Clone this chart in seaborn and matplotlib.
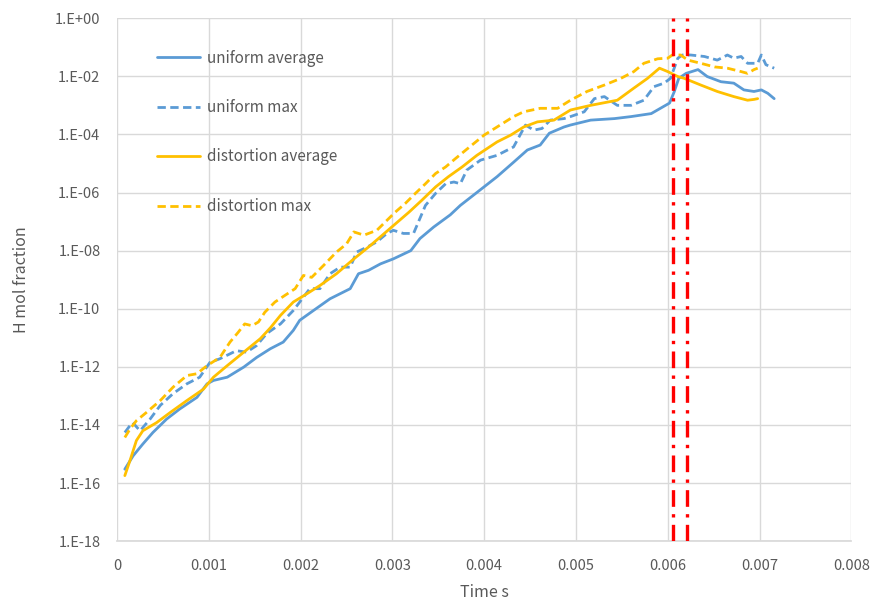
import numpy as np
import pandas as pd
import matplotlib
matplotlib.use("Agg")
import matplotlib.pyplot as plt
from matplotlib.ticker import FixedLocator, FixedFormatter
import seaborn as sns

# ---- data (time in s, H mol fraction) ----
uniform_avg_t = [0.000084, 0.000175, 0.00028, 0.00039, 0.00054, 0.00068, 0.00087, 0.00098,
                 0.00105, 0.0012, 0.00138, 0.00152, 0.00167, 0.00181, 0.00192, 0.00199,
                 0.00214, 0.00232, 0.00254, 0.00263, 0.00274, 0.00287, 0.00301, 0.0032,
                 0.0033, 0.00345, 0.00363, 0.00374, 0.00392, 0.00414, 0.00432, 0.00447,
                 0.00461, 0.00471, 0.00487, 0.00494, 0.00516, 0.00542, 0.0056, 0.00582,
                 0.00592, 0.00602, 0.00607, 0.00612, 0.0062, 0.00633, 0.00643, 0.00658,
                 0.00672, 0.00683, 0.00694, 0.00702, 0.00709, 0.00716]
uniform_avg = [3.0e-16, 8.7e-16, 2.2e-15, 5.5e-15, 1.6e-14, 3.5e-14, 8.9e-14, 2.6e-13,
               3.4e-13, 4.4e-13, 9.8e-13, 2.1e-12, 4.2e-12, 7.1e-12, 1.8e-11, 4.0e-11,
               8.7e-11, 2.2e-10, 4.9e-10, 1.6e-9, 2.1e-9, 3.5e-9, 5.2e-9, 1.0e-8,
               2.6e-8, 6.5e-8, 1.7e-7, 3.6e-7, 1.0e-6, 3.5e-6, 1.1e-5, 2.9e-5,
               4.3e-5, 1.1e-4, 1.8e-4, 2.1e-4, 3.1e-4, 3.5e-4, 4.1e-4, 5.2e-4,
               7.9e-4, 1.2e-3, 2.9e-3, 8.5e-3, 1.26e-2, 1.7e-2, 9.8e-3, 6.5e-3,
               5.8e-3, 3.4e-3, 3.0e-3, 3.4e-3, 2.6e-3, 1.7e-3]

uniform_max_t = [0.000084, 0.00014, 0.00017, 0.00025, 0.00036, 0.00047, 0.00061, 0.00076,
                 0.0009, 0.00101, 0.00112, 0.00123, 0.0013, 0.00141, 0.00152, 0.00163,
                 0.00178, 0.00192, 0.00203, 0.0021, 0.00221, 0.00232, 0.00243, 0.00254,
                 0.00261, 0.00272, 0.00283, 0.00294, 0.00301, 0.00312, 0.00323, 0.00336,
                 0.00347, 0.00358, 0.00367, 0.00374, 0.00381, 0.00396, 0.00414, 0.00432,
                 0.00445, 0.00454, 0.00463, 0.00472, 0.00487, 0.00494, 0.00509, 0.0052,
                 0.00531, 0.00545, 0.0056, 0.00574, 0.00585, 0.00596, 0.00603, 0.00611,
                 0.00616, 0.00625, 0.0064, 0.00654, 0.00665, 0.00672, 0.0068, 0.00687,
                 0.00698, 0.00702, 0.00707, 0.00716]
uniform_max = [5.5e-15, 9.5e-15, 1.2e-14, 6.3e-15, 1.6e-14, 4.7e-14, 1.2e-13, 2.6e-13,
               4.4e-13, 1.4e-12, 1.9e-12, 2.8e-12, 3.6e-12, 3.2e-12, 5.4e-12, 1.4e-11,
               3.0e-11, 8.7e-11, 2.5e-10, 4.9e-10, 4.9e-10, 1.6e-9, 2.7e-9, 2.7e-9,
               8.9e-9, 1.3e-8, 2.0e-8, 3.9e-8, 5.0e-8, 3.9e-8, 3.9e-8, 3.6e-7,
               9.3e-7, 2.0e-6, 2.3e-6, 2.0e-6, 5.9e-6, 1.3e-5, 1.9e-5, 3.7e-5,
               2.1e-4, 1.4e-4, 1.6e-4, 3.1e-4, 3.5e-4, 4.1e-4, 6.0e-4, 1.7e-3,
               2.0e-3, 1.0e-3, 1.0e-3, 1.5e-3, 4.4e-3, 5.8e-3, 8.5e-3, 4.2e-2,
               5.4e-2, 5.4e-2, 4.8e-2, 3.6e-2, 5.4e-2, 4.2e-2, 4.8e-2, 2.8e-2,
               2.8e-2, 5.4e-2, 2.5e-2, 1.9e-2]

distortion_avg_t = [0.000084, 0.00014, 0.00021, 0.00028, 0.00043, 0.00058, 0.00076, 0.00094,
                    0.00105, 0.0012, 0.00138, 0.00156, 0.00167, 0.00178, 0.00192, 0.00207,
                    0.00221, 0.00239, 0.00258, 0.00276, 0.00298, 0.00318, 0.00332, 0.00347,
                    0.00361, 0.00376, 0.00392, 0.00414, 0.00429, 0.00443, 0.00458, 0.00476,
                    0.00494, 0.00516, 0.00545, 0.00563, 0.00578, 0.00591, 0.006, 0.00611,
                    0.00618, 0.00636, 0.00654, 0.00672, 0.00687, 0.00694, 0.00698]
distortion_avg = [1.8e-16, 5.9e-16, 2.9e-15, 6.3e-15, 1.2e-14, 2.7e-14, 6.9e-14, 1.7e-13,
                  4.4e-13, 1.1e-12, 3.2e-12, 9.3e-12, 2.2e-11, 5.9e-11, 1.7e-10, 3.3e-10,
                  6.3e-10, 1.6e-9, 5.2e-9, 1.5e-8, 6.0e-8, 2.1e-7, 5.4e-7, 1.55e-6,
                  3.5e-6, 7.6e-6, 1.9e-5, 5.5e-5, 9.5e-5, 1.8e-4, 2.7e-4, 3.1e-4,
                  6.9e-4, 1.0e-3, 1.5e-3, 3.9e-3, 8.5e-3, 1.9e-2, 1.45e-2, 9.8e-3,
                  8.5e-3, 5.0e-3, 3.0e-3, 2.0e-3, 1.5e-3, 1.6e-3, 1.7e-3]

distortion_max_t = [0.000084, 0.00014, 0.00021, 0.00032, 0.00047, 0.00061, 0.00076, 0.00087,
                    0.00098, 0.00112, 0.00123, 0.00132, 0.00139, 0.00147, 0.00154, 0.00161,
                    0.00172, 0.00183, 0.00194, 0.00203, 0.00212, 0.00225, 0.00239, 0.0025,
                    0.00258, 0.00269, 0.00283, 0.00303, 0.00314, 0.00325, 0.00336, 0.00347,
                    0.00358, 0.00369, 0.0038, 0.004, 0.00414, 0.00432, 0.00443, 0.00461,
                    0.0048, 0.00494, 0.00512, 0.00531, 0.00549, 0.00563, 0.00574, 0.00589,
                    0.006, 0.00605, 0.00614, 0.00622, 0.00636, 0.00651, 0.00665, 0.0068,
                    0.00687, 0.00694, 0.00698]
distortion_max = [3.7e-15, 7.2e-15, 1.4e-14, 2.7e-14, 6.9e-14, 2.0e-13, 5.0e-13, 5.8e-13,
                  1.1e-12, 2.1e-12, 7.1e-12, 1.55e-11, 3.0e-11, 2.6e-11, 3.5e-11, 7.6e-11,
                  1.7e-10, 2.9e-10, 4.9e-10, 1.4e-9, 1.2e-9, 3.1e-9, 8.9e-9, 1.7e-8,
                  4.4e-8, 3.4e-8, 5.0e-8, 2.1e-7, 4.2e-7, 9.3e-7, 2.0e-6, 4.5e-6,
                  7.6e-6, 1.5e-5, 2.9e-5, 9.5e-5, 1.8e-4, 4.1e-4, 6.0e-4, 7.9e-4,
                  7.9e-4, 1.5e-3, 3.0e-3, 5.0e-3, 8.5e-3, 1.45e-2, 2.8e-2, 4.0e-2,
                  4.2e-2, 5.4e-2, 5.4e-2, 3.6e-2, 2.8e-2, 2.1e-2, 1.9e-2, 1.45e-2,
                  1.26e-2, 1.7e-2, 1.9e-2]

event_times = [0.006056, 0.00621]

x_ticks = [0, 0.001, 0.002, 0.003, 0.004, 0.005, 0.006, 0.007, 0.008]
x_tick_labels = ["0", "0.001", "0.002", "0.003", "0.004", "0.005", "0.006", "0.007", "0.008"]
y_ticks = [1e-18, 1e-16, 1e-14, 1e-12, 1e-10, 1e-08, 1e-06, 1e-04, 1e-02, 1e+00]
y_tick_labels = ["1.E-18", "1.E-16", "1.E-14", "1.E-12", "1.E-10", "1.E-08",
                 "1.E-06", "1.E-04", "1.E-02", "1.E+00"]

BLUE = "#5B9BD5"
GOLD = "#FFC000"
GRID = "#D9D9D9"
TEXT = "#595959"

sns.set_theme(style="white")
plt.rcParams["font.family"] = ["Noto Sans CJK JP", "DejaVu Sans"]

fig = plt.figure(figsize=(8.74, 6.06), dpi=100)
ax = fig.add_axes([0.134, 0.107, 0.84, 0.863])

series = [
    (uniform_avg_t, uniform_avg, BLUE, "-", "uniform average"),
    (uniform_max_t, uniform_max, BLUE, (0, (3, 1.6)), "uniform max"),
    (distortion_avg_t, distortion_avg, GOLD, "-", "distortion average"),
    (distortion_max_t, distortion_max, GOLD, (0, (3, 1.6)), "distortion max"),
]
for t, v, c, ls, name in series:
    df = pd.DataFrame({"t": t, "v": v})
    sns.lineplot(data=df, x="t", y="v", ax=ax, color=c, linestyle=ls,
                 linewidth=2.0, label=name, sort=False)

for xe in event_times:
    ax.axvline(xe, color="#FF0000", linewidth=2.4, linestyle=(0, (5, 2.2, 1, 2.2)), zorder=3)

ax.set_yscale("log")
ax.set_xlim(0, 0.008)
ax.set_ylim(1e-18, 1e+00)
ax.xaxis.set_major_locator(FixedLocator(x_ticks))
ax.xaxis.set_major_formatter(FixedFormatter(x_tick_labels))
ax.yaxis.set_major_locator(FixedLocator(y_ticks))
ax.yaxis.set_major_formatter(FixedFormatter(y_tick_labels))
ax.yaxis.set_minor_locator(FixedLocator([]))
ax.grid(True, which="major", color=GRID, linewidth=1.0)
ax.set_axisbelow(True)
for s in ["top", "right", "left"]:
    ax.spines[s].set_visible(False)
ax.spines["bottom"].set_color(GRID)
ax.tick_params(axis="x", length=0, labelsize=10.5, labelcolor=TEXT, pad=13)
ax.tick_params(axis="y", length=0, labelsize=10.5, labelcolor=TEXT, pad=12)

ax.set_xlabel("Time s", fontsize=11.5, color=TEXT, labelpad=8)
ax.set_ylabel("H mol fraction", fontsize=11.5, color=TEXT, labelpad=18)

leg = ax.legend(loc="upper left", bbox_to_anchor=(0.035, 0.966), frameon=False,
                fontsize=11, handlelength=2.85, handletextpad=0.45, labelspacing=2.12)
for txt in leg.get_texts():
    txt.set_color(TEXT)

fig.savefig("out.png", dpi=100)
